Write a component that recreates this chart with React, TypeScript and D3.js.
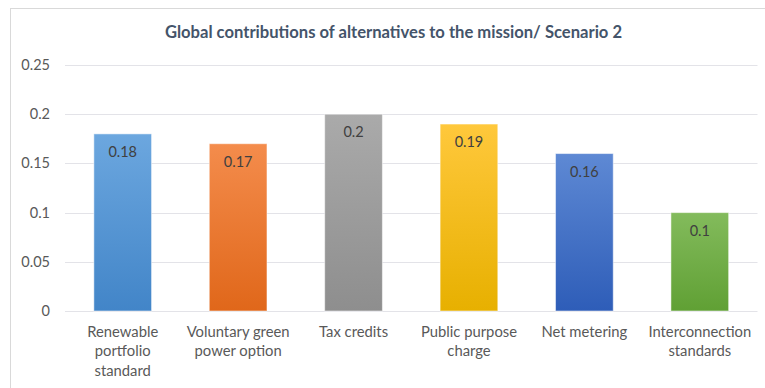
import React from "react";
import * as d3 from "d3";

const categories = [
  ["Renewable", "portfolio", "standard"],
  ["Voluntary green", "power option"],
  ["Tax credits"],
  ["Public purpose", "charge"],
  ["Net metering"],
  ["Interconnection", "standards"],
];
const values = [0.18, 0.17, 0.2, 0.19, 0.16, 0.1];
const yTicks = [0, 0.05, 0.1, 0.15, 0.2, 0.25];
const title = "Global contributions of alternatives to the mission/ Scenario 2";
const gradTop = ["#6CA7DF", "#F48C4C", "#AAAAAA", "#FFC83C", "#5E89D4", "#83BB5C"];
const gradBottom = ["#4285C8", "#E0671A", "#8E8E8E", "#E7B000", "#2E5DB8", "#60A034"];

const W = 765;
const H = 388;
const margin = { left: 65, right: 7.5, top: 65, bottom: 77 };

export default function App() {
  const x = d3
    .scaleBand<number>()
    .domain(values.map((_, i) => i))
    .range([margin.left, W - margin.right])
    .paddingInner(0.5)
    .paddingOuter(0.25);
  const y = d3.scaleLinear().domain([0, 0.25]).range([311, 65]);
  const font = "Lato, 'Open Sans', sans-serif";
  return (
    <svg
      width={W}
      height={H}
      style={{ position: "absolute", left: 0, top: 0, background: "#fff" }}
    >
      <defs>
        {values.map((_, i) => (
          <linearGradient key={i} id={`g${i}`} x1="0" y1="0" x2="0" y2="1">
            <stop offset="0%" stopColor={gradTop[i]} />
            <stop offset="100%" stopColor={gradBottom[i]} />
          </linearGradient>
        ))}
      </defs>
      <rect x={10.5} y={8.5} width={W + 20} height={H + 20} fill="#fff" stroke="#D9D9D9" strokeWidth={1} />
      <text
        x={393.5}
        y={38}
        textAnchor="middle"
        fontFamily={font}
        fontWeight="bold"
        fontSize={16.6}
        fill="#44546A"
      >
        {title}
      </text>
      {yTicks.map((t) => (
        <g key={t}>
          <line
            x1={margin.left}
            x2={W - margin.right}
            y1={Math.round(y(t)) + 0.5}
            y2={Math.round(y(t)) + 0.5}
            stroke="#E3E3E8"
            strokeWidth={1}
          />
          <text
            x={50}
            y={y(t)}
            dy="0.35em"
            textAnchor="end"
            fontFamily={font}
            fontSize={14.5}
            fill="#595959"
          >
            {String(t)}
          </text>
        </g>
      ))}
      {values.map((v, i) => {
        const bx = x(i)!;
        const bw = x.bandwidth();
        return (
          <g key={i}>
            <rect
              x={bx}
              y={y(v)}
              width={bw}
              height={y(0) - y(v)}
              fill={`url(#g${i})`}
              stroke="#ffffff"
              strokeOpacity={0.5}
              strokeWidth={1}
            />
            <text
              x={bx + bw / 2}
              y={y(v) + 18}
              dy="0.35em"
              textAnchor="middle"
              fontFamily={font}
              fontSize={14.5}
              fill="#404040"
            >
              {String(v)}
            </text>
            {categories[i].map((line, j) => (
              <text
                key={j}
                x={bx + bw / 2}
                y={332 + j * 19.3}
                dy="0.35em"
                textAnchor="middle"
                fontFamily={font}
                fontSize={14.8}
                fill="#595959"
              >
                {line}
              </text>
            ))}
          </g>
        );
      })}
    </svg>
  );
}
